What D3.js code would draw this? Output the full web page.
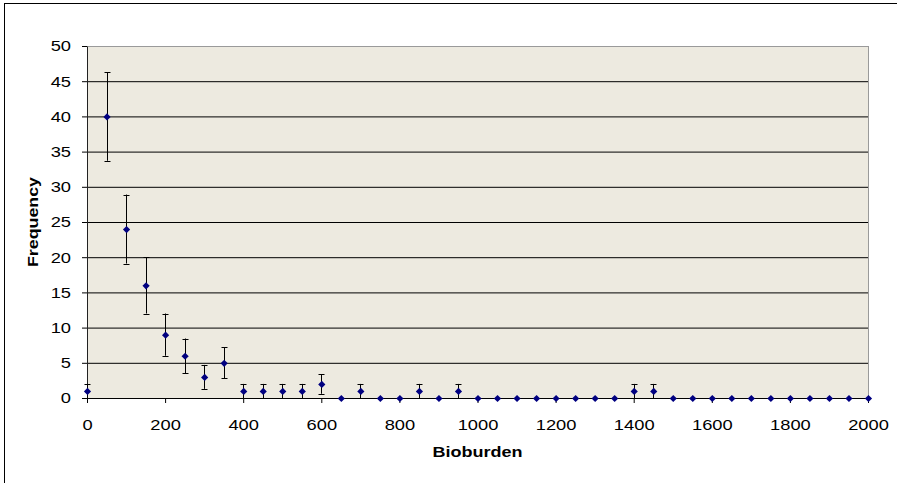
<!DOCTYPE html>
<html>
<head>
<meta charset="utf-8">
<script src="https://cdn.jsdelivr.net/npm/d3@7"></script>
<style>
  body { margin: 0; background: #fff; }
  text { font-family: Arial, "Liberation Sans", sans-serif; }
</style>
</head>
<body>
<div id="chart"></div>
<script>
// values
const bioburden = [0, 50, 100, 150, 200, 250, 300, 350, 400, 450, 500, 550, 600, 650, 700, 750, 800, 850, 900, 950,
  1000, 1050, 1100, 1150, 1200, 1250, 1300, 1350, 1400, 1450, 1500, 1550, 1600, 1650, 1700, 1750, 1800, 1850, 1900, 1950, 2000]
const frequency = [1, 40, 24, 16, 9, 6, 3, 5, 1, 1, 1, 1, 2, 0, 1, 0, 0, 1, 0, 1,
  0, 0, 0, 0, 0, 0, 0, 0, 1, 1, 0, 0, 0, 0, 0, 0, 0, 0, 0, 0, 0]
const errorBar = [1, 6.3, 4.9, 4, 3, 2.45, 1.7, 2.2, 1, 1, 1, 1, 1.4, 0, 1, 0, 0, 1, 0, 1,
  0, 0, 0, 0, 0, 0, 0, 0, 1, 1, 0, 0, 0, 0, 0, 0, 0, 0, 0, 0, 0]
const xTicks = [0, 200, 400, 600, 800, 1000, 1200, 1400, 1600, 1800, 2000]
const yTicks = [0, 5, 10, 15, 20, 25, 30, 35, 40, 45, 50]

const W = 897
const H = 483
const plot = { left: 87, right: 868, top: 46, bottom: 398 }

const svg = d3.select('#chart').append('svg')
  .attr('width', W)
  .attr('height', H)

// outer chart border (only top and left fall inside the picture)
svg.append('rect')
  .attr('x', 4.5).attr('y', 3.5)
  .attr('width', W + 10).attr('height', H + 10)
  .style('fill', '#fff')
  .style('stroke', '#000')

const xScale = d3.scaleLinear().domain([0, 2000]).range([plot.left, plot.right])
const yScale = d3.scaleLinear().domain([0, 50]).range([plot.bottom, plot.top])

svg.append('rect')
  .attr('x', plot.left + 0.5).attr('y', plot.top + 0.5)
  .attr('width', plot.right - plot.left).attr('height', plot.bottom - plot.top)
  .style('fill', '#EDEAE0')
  .style('stroke', '#9a9a9a')

// gridlines
let grid = svg.append('g')
  .attr('transform', `translate(${plot.left},0)`)
  .call(d3.axisLeft(yScale).tickValues(yTicks.slice(1, -1)).tickSize(-(plot.right - plot.left)).tickFormat(''))
grid.select('.domain').remove()
grid.selectAll('line').style('stroke', '#000')

// stretch the glyphs a little, the original text is wide
let widen = function (sel, k) {
  sel.each(function () {
    let len = this.getComputedTextLength()
    d3.select(this).attr('textLength', len * k).attr('lengthAdjust', 'spacingAndGlyphs')
  })
}

let yaxis = svg.append('g')
  .attr('transform', `translate(${plot.left},0)`)
  .call(d3.axisLeft(yScale).tickValues(yTicks).tickSize(5).tickSizeOuter(0).tickPadding(11))
yaxis.select('.domain').style('stroke', '#222')
yaxis.selectAll('line').style('stroke', '#000')
yaxis.selectAll('text').style('font-size', '15px').style('fill', '#000')
  .style('font-family', 'Arial, "Liberation Sans", sans-serif')
widen(yaxis.selectAll('text'), 1.22)

// error bars
let eb = svg.append('g')
bioburden.forEach((b, i) => {
  if (!errorBar[i]) return
  let x = Math.round(xScale(b)) + 0.5
  let lo = Math.max(0, frequency[i] - errorBar[i])
  let hi = frequency[i] + errorBar[i]
  eb.append('line')
    .attr('x1', x).attr('x2', x)
    .attr('y1', yScale(lo)).attr('y2', yScale(hi))
    .style('stroke', '#000')
  ;[lo, hi].forEach(v => {
    eb.append('line')
      .attr('x1', x - 3).attr('x2', x + 3)
      .attr('y1', Math.round(yScale(v)) + 0.5).attr('y2', Math.round(yScale(v)) + 0.5)
      .style('stroke', '#000')
  })
})

let xaxis = svg.append('g')
  .attr('transform', `translate(0,${plot.bottom})`)
  .call(d3.axisBottom(xScale).tickValues(xTicks).tickFormat(d3.format('d'))
    .tickSize(5).tickSizeOuter(0).tickPadding(16))
xaxis.select('.domain').style('stroke', '#000')
xaxis.selectAll('line').style('stroke', '#000')
xaxis.selectAll('text').style('font-size', '15px').style('fill', '#000')
  .style('font-family', 'Arial, "Liberation Sans", sans-serif')
widen(xaxis.selectAll('text'), 1.22)

// diamond markers
svg.append('g')
  .selectAll('path')
  .data(bioburden)
  .enter()
  .append('path')
  .attr('transform', (d, i) => `translate(${xScale(d) + 0.5},${yScale(frequency[i]) + 0.5})`)
  .attr('d', 'M0,-3.6L3.6,0L0,3.6L-3.6,0Z')
  .style('fill', '#000080')

// axis titles
svg.append('text')
  .attr('transform', `translate(38,${(plot.top + plot.bottom) / 2}) rotate(-90)`)
  .attr('text-anchor', 'middle')
  .attr('textLength', 90)
  .attr('lengthAdjust', 'spacingAndGlyphs')
  .style('font-size', '14px')
  .style('font-weight', 'bold')
  .text('Frequency')

svg.append('text')
  .attr('x', (plot.left + plot.right) / 2)
  .attr('y', 457)
  .attr('text-anchor', 'middle')
  .attr('textLength', 90)
  .attr('lengthAdjust', 'spacingAndGlyphs')
  .style('font-size', '14px')
  .style('font-weight', 'bold')
  .text('Bioburden')
</script>
</body>
</html>
